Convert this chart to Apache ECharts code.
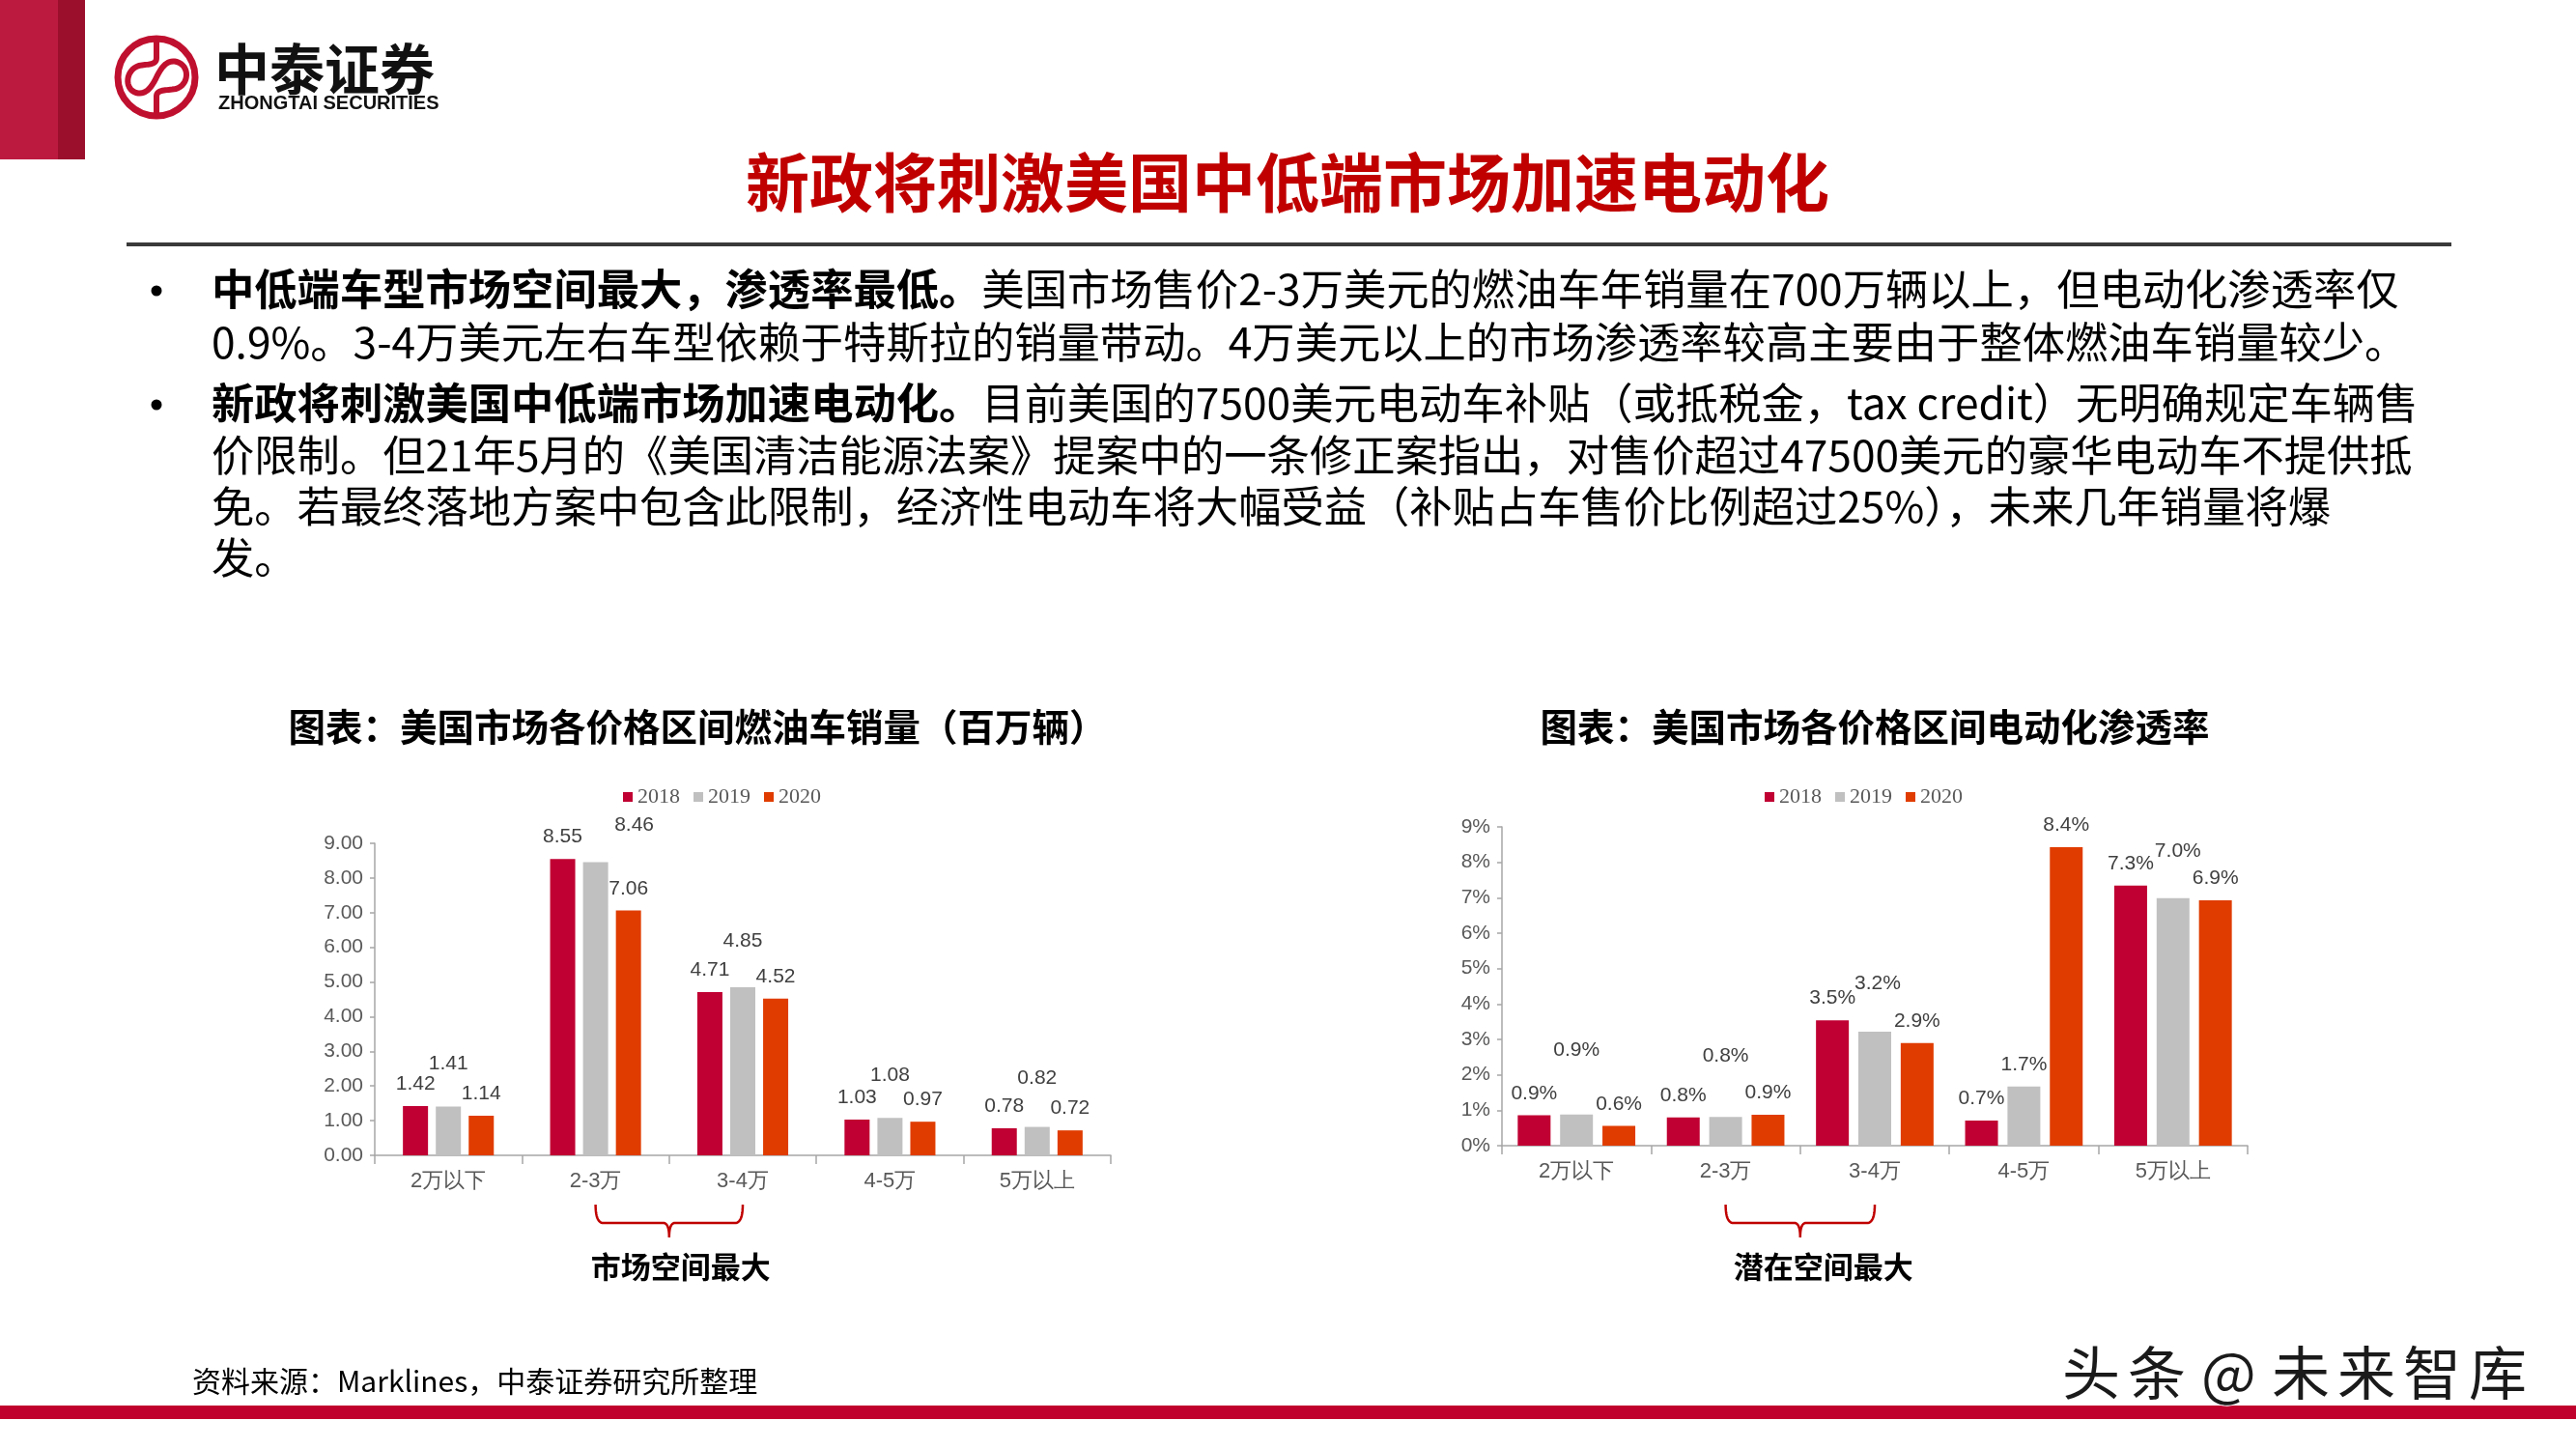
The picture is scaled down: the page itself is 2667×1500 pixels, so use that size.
<!DOCTYPE html>
<html>
<head>
<meta charset="utf-8">
<script src="https://cdn.jsdelivr.net/npm/echarts@6/dist/echarts.min.js"></script>
<style>
html,body{margin:0;padding:0;background:#fff;}
#main{width:2667px;height:1500px;}
</style>
</head>
<body>
<div id="main"></div>
<script>
// ---------- data ----------
const categories = ['2万以下', '2-3万', '3-4万', '4-5万', '5万以上'];
const years = ['2018', '2019', '2020'];
// 燃油车销量（百万辆）
const sales2018 = [1.42, 8.55, 4.71, 1.03, 0.78];
const sales2019 = [1.41, 8.46, 4.85, 1.08, 0.82];
const sales2020 = [1.14, 7.06, 4.52, 0.97, 0.72];
// 电动化渗透率（%）
const pen2018 = [0.86, 0.80, 3.54, 0.71, 7.34];
const pen2019 = [0.88, 0.81, 3.22, 1.67, 6.99];
const pen2020 = [0.56, 0.87, 2.90, 8.43, 6.93];
// axis ticks
const salesAxis = {min: 0, max: 9, interval: 1};
const penAxis = {min: 0, max: 9, interval: 1};

// ---------- text ----------
const pageTitle = '新政将刺激美国中低端市场加速电动化';
const leftTitle = '图表：美国市场各价格区间燃油车销量（百万辆）';
const rightTitle = '图表：美国市场各价格区间电动化渗透率';
const leftNote = '市场空间最大';
const rightNote = '潜在空间最大';
const sourceText = '资料来源：Marklines，中泰证券研究所整理';
const watermarkChars = ['头', '条', '@', '未', '来', '智', '库'];
const bullets = [
  [['b', '中低端车型市场空间最大，渗透率最低。'], ['n', '美国市场售价2-3万美元的燃油车年销量在700万辆以上，但电动化渗透率仅']],
  [['n', '0.9%。3-4万美元左右车型依赖于特斯拉的销量带动。4万美元以上的市场渗透率较高主要由于整体燃油车销量较少。']],
  [['b', '新政将刺激美国中低端市场加速电动化。'], ['n', '目前美国的7500美元电动车补贴（或抵税金，tax credit）无明确规定车辆售']],
  [['n', '价限制。但21年5月的《美国清洁能源法案》提案中的一条修正案指出，对售价超过47500美元的豪华电动车不提供抵']],
  [['n', '免。若最终落地方案中包含此限制，经济性电动车将大幅受益（补贴占车售价比例超过25%），未来几年销量将爆']],
  [['n', '发。']]
];

// ---------- style ----------
const colors = ['#C00032', '#C0C0C0', '#E03C00'];
const NARROW = '"Liberation Sans Narrow","Arial Narrow","Liberation Sans",Arial,sans-serif';
const CJK = '"Noto Sans CJK SC","Noto Sans",sans-serif';
// extra label shifts (style only): [dx, dy]
const leftShift2019 = [[0, -22], [40, -16], [0, -25], [0, -22], [0, -28]];
const rightShift2019 = [[0, -44], [0, -41], [3, -27], [0, 0], [5, -26]];

const chart = echarts.init(document.getElementById('main'), null, {renderer: 'canvas'});

function makeSeries(name, values, idx, gridIdx, shifts, fmt, barWidth, barGap) {
  return {
    name: name,
    type: 'bar',
    xAxisIndex: gridIdx,
    yAxisIndex: gridIdx,
    barWidth: barWidth,
    barGap: barGap,
    itemStyle: {color: colors[idx]},
    label: {
      show: true, position: 'top', distance: 12,
      fontFamily: NARROW, fontSize: 21, color: '#404040',
      formatter: p => fmt(p.value)
    },
    data: values.map((v, i) => shifts ? {value: v, label: {offset: shifts[i]}} : v)
  };
}

const axisLine = {show: true, lineStyle: {color: '#A6A6A6', width: 1.5}};
const fmtSales = v => v.toFixed(2);
const fmtPen = v => v.toFixed(1) + '%';

const legendBase = {
  icon: 'rect', itemWidth: 10, itemHeight: 10, itemGap: 14,
  textStyle: {fontFamily: '"Liberation Serif","Times New Roman",serif', fontSize: 22, color: '#595959'},
  data: years
};

const option = {
  animation: false,
  backgroundColor: '#ffffff',
  legend: [
    Object.assign({left: 640, top: 809}, legendBase),
    Object.assign({left: 1822, top: 809}, legendBase)
  ],
  grid: [
    {left: 388, top: 873, width: 762, height: 323},
    {left: 1555, top: 856, width: 772, height: 330}
  ],
  xAxis: [0, 1].map(g => ({
    type: 'category', gridIndex: g, data: categories,
    axisLine: axisLine,
    axisTick: {show: true, length: 9, lineStyle: {color: '#A6A6A6', width: 1.5}},
    axisLabel: {fontFamily: NARROW, fontSize: 22, color: '#595959', margin: 16}
  })),
  yAxis: [
    {type: 'value', gridIndex: 0, min: salesAxis.min, max: salesAxis.max, interval: salesAxis.interval,
     axisLine: axisLine, axisTick: {show: true, length: 5, lineStyle: {color: '#A6A6A6', width: 1.5}},
     splitLine: {show: false},
     axisLabel: {fontFamily: NARROW, fontSize: 21, color: '#595959', margin: 12, formatter: v => v.toFixed(2)}},
    {type: 'value', gridIndex: 1, min: penAxis.min, max: penAxis.max, interval: penAxis.interval,
     axisLine: axisLine, axisTick: {show: true, length: 5, lineStyle: {color: '#A6A6A6', width: 1.5}},
     splitLine: {show: false},
     axisLabel: {fontFamily: NARROW, fontSize: 21, color: '#595959', margin: 12, formatter: v => v + '%'}}
  ],
  series: [
    makeSeries('2018', sales2018, 0, 0, null, fmtSales, 26, '31%'),
    makeSeries('2019', sales2019, 1, 0, leftShift2019, fmtSales, 26, '31%'),
    makeSeries('2020', sales2020, 2, 0, null, fmtSales, 26, '31%'),
    makeSeries('2018', pen2018, 0, 1, null, fmtPen, 34, '29%'),
    makeSeries('2019', pen2019, 1, 1, rightShift2019, fmtPen, 34, '29%'),
    makeSeries('2020', pen2020, 2, 1, null, fmtPen, 34, '29%')
  ]
};
chart.setOption(option);

// ---------- helpers ----------
// sample a simple path (M/L/Q/C segments) into polyline points
function samplePath(segs) {
  const pts = [];
  let cx = 0, cy = 0;
  const N = 16;
  segs.forEach(s => {
    const t = s[0];
    if (t === 'M' || t === 'L') { cx = s[1]; cy = s[2]; pts.push([cx, cy]); }
    else if (t === 'Q') {
      const [_, qx, qy, x, y] = s;
      for (let i = 1; i <= N; i++) {
        const u = i / N, a = (1 - u) * (1 - u), b = 2 * (1 - u) * u, c = u * u;
        pts.push([a * cx + b * qx + c * x, a * cy + b * qy + c * y]);
      }
      cx = x; cy = y;
    } else if (t === 'C') {
      const [_, x1, y1, x2, y2, x, y] = s;
      for (let i = 1; i <= N; i++) {
        const u = i / N, a = Math.pow(1 - u, 3), b = 3 * Math.pow(1 - u, 2) * u, c = 3 * (1 - u) * u * u, d = u * u * u;
        pts.push([a * cx + b * x1 + c * x2 + d * x, a * cy + b * y1 + c * y2 + d * y]);
      }
      cx = x; cy = y;
    }
  });
  return pts;
}

function txt(text, x, y, size, opts) {
  opts = opts || {};
  return {
    type: 'text', z: 100,
    style: Object.assign({
      text: text, x: x, y: y,
      fontSize: size, fontFamily: opts.family || CJK,
      fontWeight: opts.weight || 'normal',
      fill: opts.fill || '#000',
      align: opts.align || 'left', verticalAlign: 'middle'
    }, opts.extra || {})
  };
}

function bracket(gridIdx, c1, c2, yTop, noteText, noteDx) {
  const x1 = chart.convertToPixel({xAxisIndex: gridIdx}, c1);
  const x2 = chart.convertToPixel({xAxisIndex: gridIdx}, c2);
  const xm = (x1 + x2) / 2;
  const yh = yTop + 19, yb = yTop + 34;
  const pts = samplePath([
    ['M', x1, yTop], ['Q', x1, yh, x1 + 8, yh], ['L', xm - 6, yh], ['Q', xm, yh, xm, yb],
    ['Q', xm, yh, xm + 6, yh], ['L', x2 - 8, yh], ['Q', x2, yh, x2, yTop]
  ]);
  return [
    {type: 'polyline', z: 100, shape: {points: pts}, style: {fill: 'none', stroke: '#C00000', lineWidth: 2.5}},
    txt(noteText, xm + noteDx, 1311, 31, {weight: 'bold', align: 'center'})
  ];
}

const bodyRich = {
  b: {fontSize: 44.3, fontWeight: 'bold', fontFamily: CJK, fill: '#000'},
  n: {fontSize: 44.3, fontWeight: 'normal', fontFamily: CJK, fill: '#000'}
};
const lineY = [299, 354, 417, 471, 524, 577];
const bulletLines = [0, 2];

const logoS = samplePath([
  ['M', 162, 42], ['L', 162, 60], ['C', 162, 68, 152, 66, 144, 68], ['C', 130, 72, 128, 92, 141, 96],
  ['C', 152, 99, 158, 88, 162, 80], ['C', 166, 72, 172, 61, 183, 64], ['C', 197, 68, 196, 88, 182, 92],
  ['C', 172, 94, 162, 92, 162, 100], ['L', 162, 118]
]);

const graphics = [
  // top-left red blocks
  {type: 'rect', shape: {x: 0, y: 0, width: 60, height: 165}, style: {fill: '#BD1A40'}},
  {type: 'rect', shape: {x: 60, y: 0, width: 28, height: 165}, style: {fill: '#9B0E2C'}},
  // logo
  {type: 'circle', shape: {cx: 162, cy: 80, r: 40}, style: {fill: 'none', stroke: '#C0102F', lineWidth: 7}},
  {type: 'polyline', shape: {points: logoS}, style: {fill: 'none', stroke: '#C0102F', lineWidth: 6}},
  txt('中泰证券', 222, 71, 57, {weight: 'bold', fill: '#111'}),
  txt('ZHONGTAI SECURITIES', 226, 107, 20, {weight: 'bold', fill: '#111', family: '"Liberation Sans",Arial,sans-serif'}),
  // page title and rule
  txt(pageTitle, 1333, 189, 66, {weight: 'bold', fill: '#C00000', align: 'center'}),
  {type: 'line', shape: {x1: 131, y1: 253, x2: 2538, y2: 253}, style: {stroke: '#3A3A3A', lineWidth: 4}},
  // chart titles
  txt(leftTitle, 722, 752, 38.5, {weight: 'bold', align: 'center'}),
  txt(rightTitle, 1941, 752, 38.5, {weight: 'bold', align: 'center'}),
  // source and footer
  txt(sourceText, 199, 1430, 30),
  {type: 'rect', shape: {x: 0, y: 1455, width: 2667, height: 14}, style: {fill: '#C0002D'}}
];

// watermark, spaced characters
const wmX = [2135, 2203, 2279, 2352, 2420, 2488, 2556];
watermarkChars.forEach((ch, i) => {
  graphics.push(txt(ch, wmX[i], 1421, 60, {fill: '#1A1A1A', extra: {stroke: '#fff', lineWidth: 2}}));
});

bullets.forEach((segs, i) => {
  const t = segs.map(s => '{' + s[0] + '|' + s[1] + '}').join('');
  graphics.push({
    type: 'text', z: 100,
    style: {text: t, x: 219, y: lineY[i], verticalAlign: 'middle', rich: bodyRich, fontSize: 44.3, fontFamily: CJK}
  });
});
bulletLines.forEach(i => {
  graphics.push({type: 'circle', shape: {cx: 162, cy: lineY[i] + 2, r: 5.5}, style: {fill: '#000'}});
});

graphics.push(...bracket(0, '2-3万', '3-4万', 1247, leftNote, 12));
graphics.push(...bracket(1, '2-3万', '3-4万', 1247, rightNote, 24));

chart.setOption({graphic: graphics});
</script>
</body>
</html>
